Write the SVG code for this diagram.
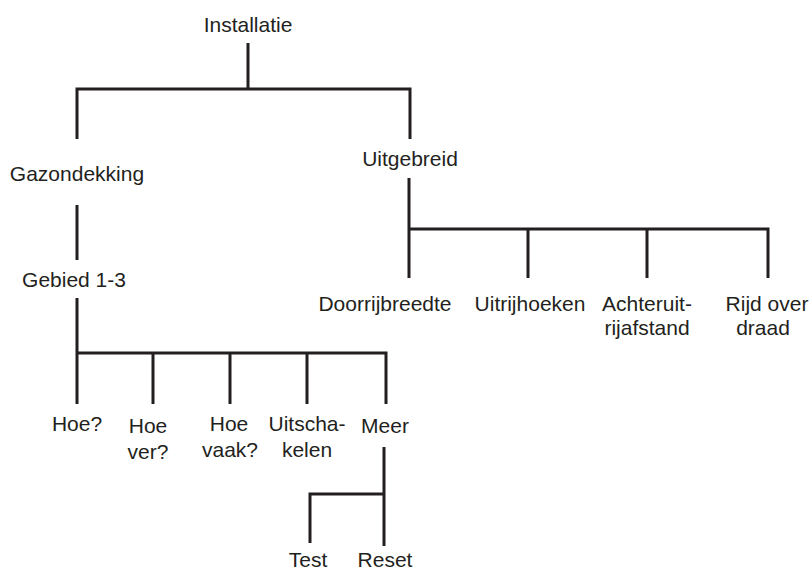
<svg xmlns="http://www.w3.org/2000/svg" width="812" height="571" viewBox="0 0 812 571">
<style>
text{font-family:"Liberation Sans",Arial,sans-serif;font-size:21px;fill:#231f20;text-anchor:middle}
.c path{fill:none;stroke:#231f20;stroke-width:3;stroke-linecap:butt;stroke-linejoin:miter}
</style>
<rect width="812" height="571" fill="#fff"/>
<g class="c" id="connectors">
<path d="M248,43V89M77,139V89H410V139"/>
<path d="M77,205V260"/>
<path d="M409,178V278M409,229H768V278M528,229V278M647,229V278"/>
<path d="M77,298V404M77,353H386V404M153,353V404M230,353V404M307,353V404"/>
<path d="M384,447V546M384,494H310V543"/>
</g>
<g id="n-installatie"><text x="248" y="32">Installatie</text></g>
<g id="n-gazondekking"><text x="77" y="181">Gazondekking</text></g>
<g id="n-uitgebreid"><text x="410" y="166">Uitgebreid</text></g>
<g id="n-gebied"><text x="74" y="287">Gebied 1-3</text></g>
<g id="n-doorrijbreedte"><text x="385" y="311">Doorrijbreedte</text></g>
<g id="n-uitrijhoeken"><text x="530" y="311">Uitrijhoeken</text></g>
<g id="n-achteruit"><text x="647" y="311">Achteruit-</text><text x="647" y="335">rijafstand</text></g>
<g id="n-rijd"><text x="767" y="311">Rijd over</text><text x="763" y="335">draad</text></g>
<g id="n-hoe"><text x="77" y="431">Hoe?</text></g>
<g id="n-hoever"><text x="148" y="433">Hoe</text><text x="148" y="459">ver?</text></g>
<g id="n-hoevaak"><text x="229" y="431">Hoe</text><text x="230" y="457">vaak?</text></g>
<g id="n-uitschakelen"><text x="307" y="431">Uitscha-</text><text x="307" y="457">kelen</text></g>
<g id="n-meer"><text x="385" y="433">Meer</text></g>
<g id="n-test"><text x="308" y="567">Test</text></g>
<g id="n-reset"><text x="385" y="567">Reset</text></g>
</svg>
